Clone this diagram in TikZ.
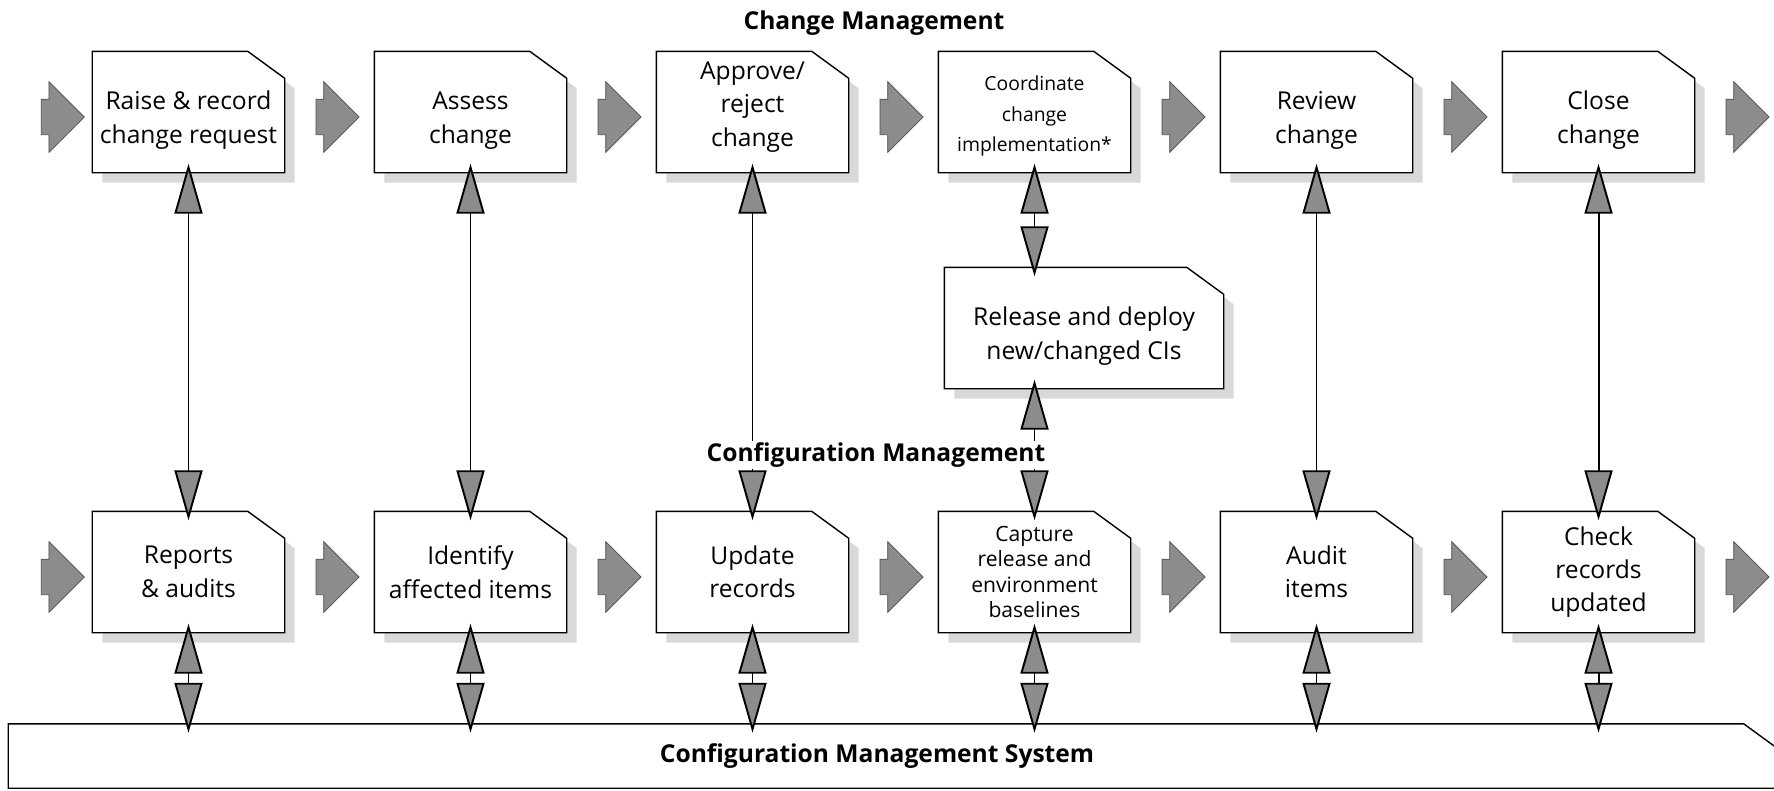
\documentclass[tikz,border=0pt]{standalone}
\usepackage{fontspec}
\setmainfont{Open Sans}
\usepackage{tikz}
\usetikzlibrary{arrows.meta,positioning,shapes.arrows,shadows}

% rectangle with the north east corner cut off
\makeatletter
\pgfdeclareshape{notebox}{
  \inheritsavedanchors[from=rectangle]
  \inheritanchorborder[from=rectangle]
  \inheritanchor[from=rectangle]{center}
  \inheritanchor[from=rectangle]{north}
  \inheritanchor[from=rectangle]{south}
  \inheritanchor[from=rectangle]{east}
  \inheritanchor[from=rectangle]{west}
  \inheritanchor[from=rectangle]{north east}
  \inheritanchor[from=rectangle]{north west}
  \inheritanchor[from=rectangle]{south east}
  \inheritanchor[from=rectangle]{south west}
  \backgroundpath{
    \southwest \edef\nbxa{\the\pgf@x}\edef\nbya{\the\pgf@y}
    \northeast \edef\nbxb{\the\pgf@x}\edef\nbyb{\the\pgf@y}
    \pgfpathmoveto{\pgfpoint{\nbxa}{\nbya}}
    \pgfpathlineto{\pgfpoint{\nbxa}{\nbyb}}
    \pgfpathlineto{\pgfpoint{\nbxb-7.4mm}{\nbyb}}
    \pgfpathlineto{\pgfpoint{\nbxb}{\nbyb-5.4mm}}
    \pgfpathlineto{\pgfpoint{\nbxb}{\nbya}}
    \pgfpathclose
  }
}
\makeatother

\tikzset{
  stepbox/.style={
    notebox, draw, fill=white, line width=0.8pt,
    minimum width=38.2mm, minimum height=24mm,
    align=center, inner sep=0pt,
    font=\fontsize{14}{19}\selectfont,
    drop shadow={shadow xshift=2mm, shadow yshift=-2mm, fill=gray!30, opacity=1}
  },
  flow/.style={
    single arrow, draw=black!70, fill=black!45, line width=0.4pt,
    minimum width=14mm, minimum height=8.6mm,
    inner xsep=0pt, inner ysep=3.5mm,
    single arrow head extend=3.5mm
  },
  link/.style={
    {Triangle[width=5.6mm,length=10mm,fill=black!45]}-{Triangle[width=5.6mm,length=10mm,fill=black!45]},
    line width=1.1pt, shorten <=-1.8mm, shorten >=-1.8mm
  },
  heading/.style={font=\fontsize{14}{17}\selectfont\bfseries}
}

\begin{document}
\begin{tikzpicture}[x=0.2mm, y=-0.2mm, node distance=56.4mm]
\useasboundingbox (0,0) rectangle (1774,790);

% change management row
\node[stepbox] (chg1) at (188.5,112) {\\[1pt]Raise \& record\\change request};
\node[stepbox] (chg2) [right of=chg1] {\\[1pt]Assess\\change};
\node[stepbox] (chg3) [right of=chg2] {Approve/\\reject\\change\\[-10pt]\mbox{}};
\node[stepbox, font=\fontsize{11}{17.5}\selectfont] (chg4) [right of=chg3] {\\[-4.4pt]Coordinate\\change\\implementation*};
\node[stepbox] (chg5) [right of=chg4] {\\[1pt]Review\\change};
\node[stepbox] (chg6) [right of=chg5] {\\[1pt]Close\\change};

% configuration management row
\node[stepbox] (cfg1) [below of=chg1, node distance=92mm] {Reports\\\& audits};
\node[stepbox] (cfg2) [right of=cfg1] {Identify\\affected items};
\node[stepbox] (cfg3) [right of=cfg2] {Update\\records};
\node[stepbox, font=\fontsize{12}{14.5}\selectfont] (cfg4) [right of=cfg3] {Capture\\release and\\environment\\baselines};
\node[stepbox] (cfg5) [right of=cfg4] {Audit\\items};
\node[stepbox] (cfg6) [right of=cfg5] {Check\\records\\updated};

\node[stepbox, minimum width=55.6mm] (rel) at (1084,328) {\\[1pt]Release and deploy\\new/changed CIs};

\node[notebox, draw, line width=0.8pt, minimum width=354.2mm, minimum height=12.6mm,
  inner sep=0pt] (cms) at (894.5,756) {};

% flow arrows
\node[flow, left=1.5mm of chg1, yshift=-1mm] (cin) {};
\node[flow, right=6.2mm of chg1, yshift=-1mm] (c12) {};
\node[flow, right=6.2mm of chg2, yshift=-1mm] (c23) {};
\node[flow, right=6.2mm of chg3, yshift=-1mm] (c34) {};
\node[flow, right=6.2mm of chg4, yshift=-1mm] (c45) {};
\node[flow, right=6.2mm of chg5, yshift=-1mm] (c56) {};
\node[flow, right=6.2mm of chg6, yshift=-1mm] (cout) {};
\node[flow, left=1.5mm of cfg1, yshift=-1mm] (fin) {};
\node[flow, right=6.2mm of cfg1, yshift=-1mm] (f12) {};
\node[flow, right=6.2mm of cfg2, yshift=-1mm] (f23) {};
\node[flow, right=6.2mm of cfg3, yshift=-1mm] (f34) {};
\node[flow, right=6.2mm of cfg4, yshift=-1mm] (f45) {};
\node[flow, right=6.2mm of cfg5, yshift=-1mm] (f56) {};
\node[flow, right=6.2mm of cfg6, yshift=-1mm] (fout) {};

% links between the rows
\draw[link] (chg1) -- (cfg1);
\draw[link] (chg2) -- (cfg2);
\draw[link] (chg3) -- (cfg3);
\draw[link] (chg4.south) -- (chg4.south |- rel.north);
\draw[link] (chg4.south |- rel.south) -- (cfg4.north);
\draw[link] (chg5) -- (cfg5);
\draw[link] (chg6) -- (cfg6);

% links to the CMS
\draw[link] (cfg1.south) -- (cfg1.south |- cms.north);
\draw[link] (cfg2.south) -- (cfg2.south |- cms.north);
\draw[link] (cfg3.south) -- (cfg3.south |- cms.north);
\draw[link] (cfg4.south) -- (cfg4.south |- cms.north);
\draw[link] (cfg5.south) -- (cfg5.south |- cms.north);
\draw[link] (cfg6.south) -- (cfg6.south |- cms.north);

\node[heading] (chgtitle) at (874,23) {Change Management};
\node[heading, fill=white, inner sep=1pt] (cfgtitle) at (876,455) {Configuration Management};
\node[heading] (cmstitle) at (877,756) {Configuration Management System};
\end{tikzpicture}
\end{document}
